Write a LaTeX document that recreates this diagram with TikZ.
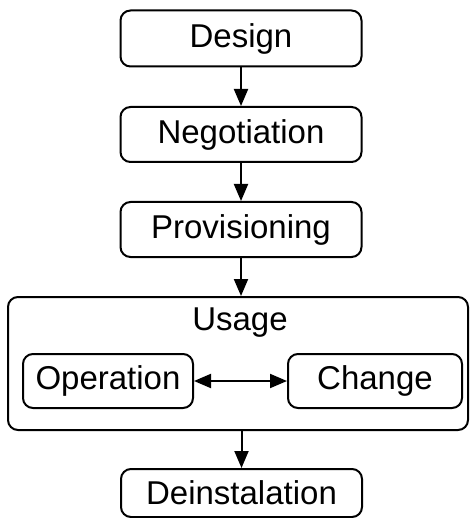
\documentclass[tikz,border=0pt]{standalone}
\usepackage{fontspec}
\setmainfont{Liberation Sans}
\usetikzlibrary{arrows.meta}
\begin{document}
\begin{tikzpicture}[x=1pt,y=-1pt,
  phase/.style={draw, line width=2pt, rounded corners=10pt, inner sep=0pt,
    font=\fontsize{33}{40}\selectfont},
  flow/.style={line width=2pt, -{Triangle[width=14pt,length=17pt]}},
  both/.style={line width=2pt, {Triangle[width=14pt,length=17pt]}-{Triangle[width=14pt,length=17pt]}}]
  \useasboundingbox (0,0) rectangle (470,518);
  % lifecycle stages
  \node[phase, minimum width=241pt, minimum height=56pt] (design) at (241,38.5) {Design};
  \node[phase, minimum width=241pt, minimum height=55pt] (nego) at (241,134.5) {Negotiation};
  \node[phase, minimum width=241pt, minimum height=55pt] (prov) at (241,229.5) {Provisioning};
  % usage phase with its two sub-states
  \node[phase, minimum width=460pt, minimum height=133pt] (usage) at (238,363.5) {};
  \node[font=\fontsize{33}{40}\selectfont, inner sep=0pt] (usagelbl) at (240,323) {Usage};
  \node[phase, minimum width=170pt, minimum height=54pt] (oper) at (108,381) {Operation};
  \node[phase, minimum width=174pt, minimum height=54pt] (change) at (375,381) {Change};
  \node[phase, minimum width=241pt, minimum height=48pt] (deinst) at (241.5,493) {Deinstalation};
  % transitions
  \draw[flow] (design) -- (nego);
  \draw[flow] (nego) -- (prov);
  \draw[flow] (prov.south) -- (prov.south |- usage.north);
  \draw[flow] (deinst.north |- usage.south) -- (deinst.north);
  \draw[both] (oper) -- (change);
\end{tikzpicture}
\end{document}
